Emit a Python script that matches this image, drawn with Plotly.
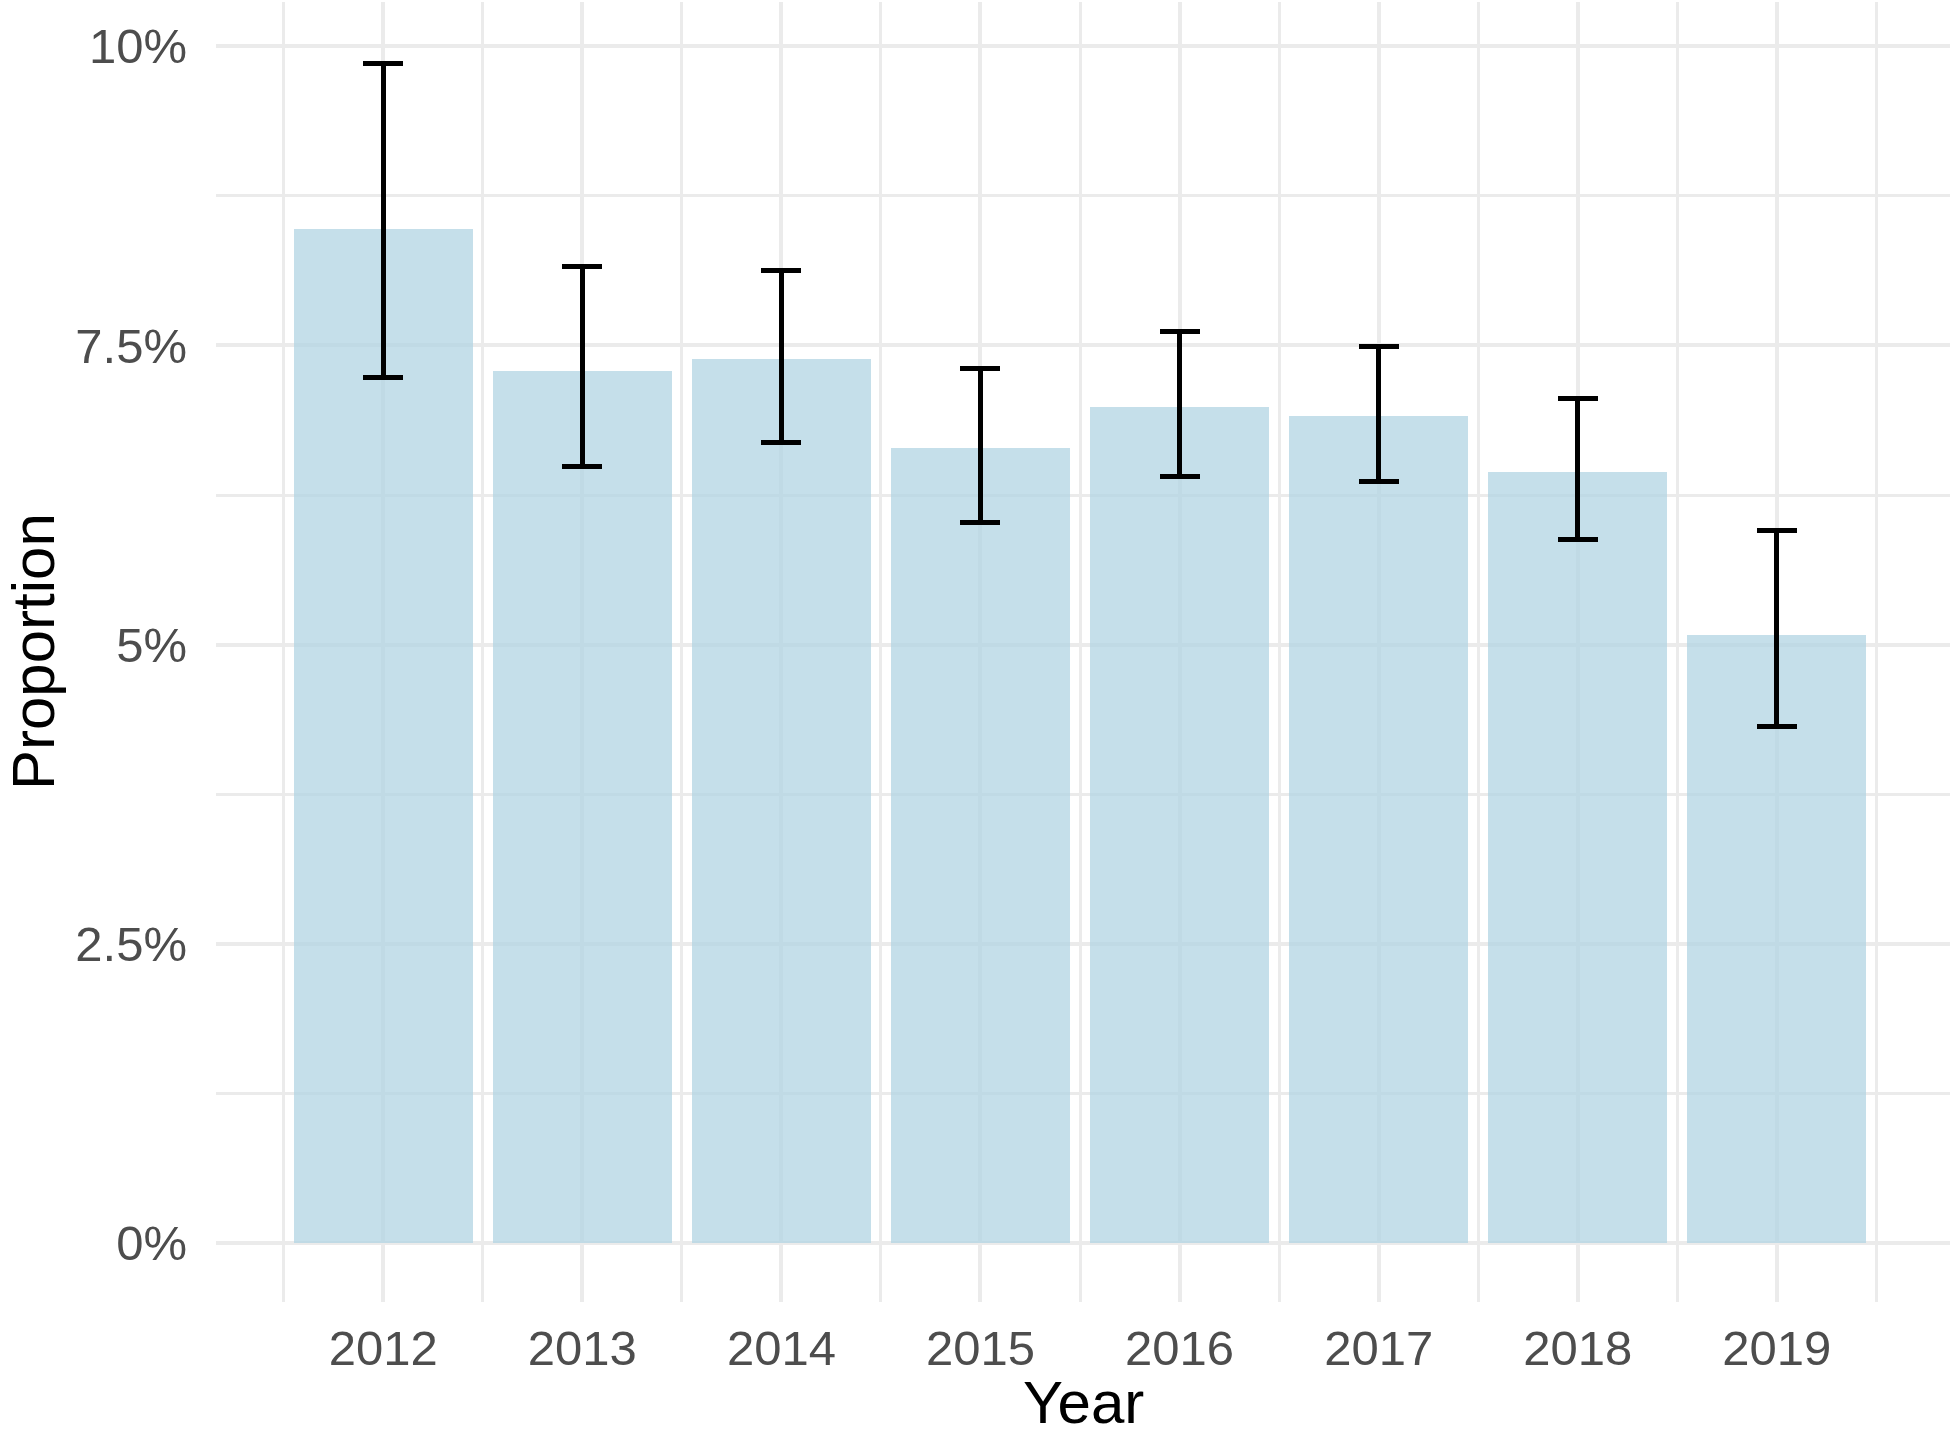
import plotly.graph_objects as go

years = [2012, 2013, 2014, 2015, 2016, 2017, 2018, 2019]
proportion = [8.475, 7.29, 7.383, 6.639, 6.987, 6.908, 6.445, 5.083]
ci_upper = [9.86, 8.163, 8.126, 7.304, 7.614, 7.492, 7.056, 5.953]
ci_lower = [7.236, 6.488, 6.689, 6.018, 6.401, 6.359, 5.879, 4.319]

y_ticks = [0, 2.5, 5, 7.5, 10]
y_ticktext = ["0%", "2.5%", "5%", "7.5%", "10%"]
y_minor = [1.25, 3.75, 6.25, 8.75]
x_minor = [2011.5, 2012.5, 2013.5, 2014.5, 2015.5, 2016.5, 2017.5, 2018.5, 2019.5]

err_plus = [u - v for u, v in zip(ci_upper, proportion)]
err_minus = [v - l for v, l in zip(proportion, ci_lower)]

FONT = "Liberation Sans, Arial, Helvetica, sans-serif"
GRID = "#EBEBEB"

fig = go.Figure()
fig.add_trace(go.Bar(
    x=years, y=proportion, width=0.9,
    marker=dict(color="rgba(178,212,227,0.75)", line=dict(width=0)),
    error_y=dict(type="data", symmetric=False, array=err_plus, arrayminus=err_minus,
                 color="black", thickness=5, width=20),
    showlegend=False,
))

fig.update_layout(
    width=1950, height=1439,
    margin=dict(l=216, r=0, t=2, b=137),
    paper_bgcolor="white", plot_bgcolor="white",
    font=dict(family=FONT),
    bargap=0,
)
fig.update_xaxes(
    range=[2011.16, 2019.87],
    tickvals=years, ticktext=[str(y) for y in years],
    tickfont=dict(size=49, color="#4D4D4D", family=FONT),
    showgrid=True, gridcolor=GRID, gridwidth=4,
    minor=dict(tickvals=x_minor, showgrid=True, gridcolor=GRID, gridwidth=2.5),
    zeroline=False, showline=False, ticks="",
    ticklabelstandoff=13,
    automargin=False,
)
fig.update_yaxes(
    range=[-0.494, 10.37],
    tickvals=y_ticks, ticktext=y_ticktext,
    tickfont=dict(size=49, color="#4D4D4D", family=FONT),
    showgrid=True, gridcolor=GRID, gridwidth=4,
    minor=dict(tickvals=y_minor, showgrid=True, gridcolor=GRID, gridwidth=2.5),
    zeroline=False, showline=False, ticks="",
    ticklabelstandoff=28,
    automargin=False,
)

fig.add_annotation(text="Year", xref="paper", yref="paper", x=0.5, y=0,
                   xanchor="center", yanchor="middle", yshift=-100, showarrow=False,
                   font=dict(size=60, color="black", family=FONT))
fig.add_annotation(text="Proportion", xref="paper", yref="paper", x=0, y=0.5,
                   xanchor="center", yanchor="middle", xshift=-183, textangle=-90,
                   showarrow=False, font=dict(size=60, color="black", family=FONT))

fig.write_html("out.html", config={"displayModeBar": False},
               post_script="document.body.style.margin='0';")
